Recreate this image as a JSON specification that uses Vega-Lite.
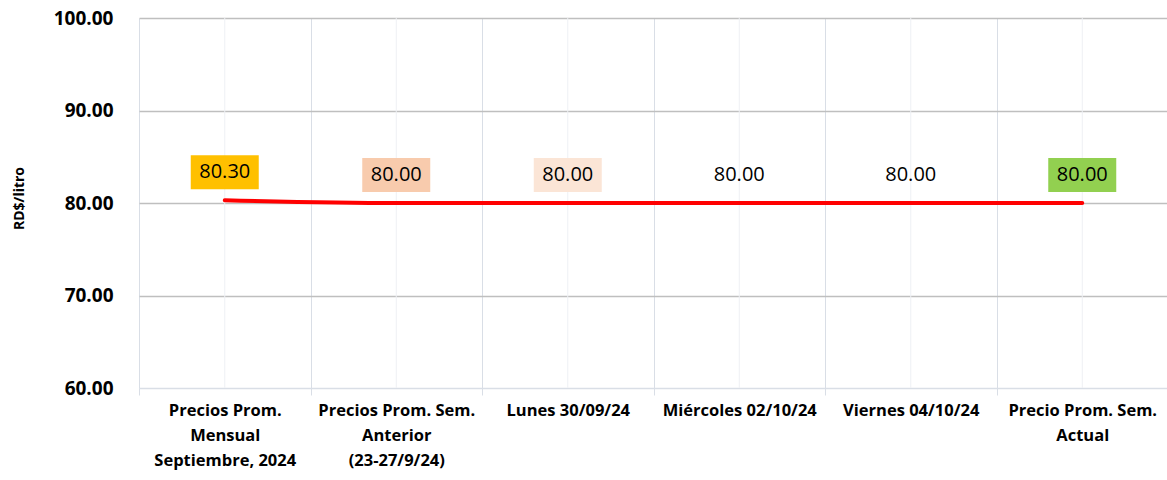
{
  "$schema": "https://vega.github.io/schema/vega-lite/v6.json",
  "autosize": "none",
  "width": 1029,
  "height": 370,
  "padding": {"left": 139, "top": 18, "right": 0, "bottom": 92},
  "background": "white",
  "config": {
    "view": {"stroke": null},
    "font": "Open Sans"
  },
  "data": {
    "values": [
      {"cat": "Precios Prom.|Mensual|Septiembre, 2024", "precio": 80.30},
      {"cat": "Precios Prom. Sem.|Anterior|(23-27/9/24)", "precio": 80.00},
      {"cat": "Lunes  30/09/24", "precio": 80.00},
      {"cat": "Miércoles 02/10/24", "precio": 80.00},
      {"cat": "Viernes 04/10/24", "precio": 80.00},
      {"cat": "Precio Prom. Sem.|Actual", "precio": 80.00}
    ]
  },
  "encoding": {
    "x": {
      "field": "cat",
      "type": "nominal",
      "sort": null,
      "bandPosition": 0.5,
      "scale": {"type": "band", "paddingInner": 0, "paddingOuter": 0},
      "axis": {
        "title": null,
        "labelAngle": 0,
        "labelExpr": "split(datum.label, '|')",
        "labelFont": "Open Sans",
        "labelFontSize": 16.5,
        "labelFontWeight": "bold",
        "labelColor": "#000000",
        "labelLineHeight": 25,
        "labelBaseline": "top",
        "labelPadding": 7,
        "labelLimit": 0,
        "labelOverlap": false,
        "tickBand": "extent",
        "ticks": true,
        "tickSize": 7,
        "tickColor": "#d9dee6",
        "grid": true,
        "gridColor": "#d9dee6",
        "domain": true,
        "domainColor": "#d9dee6"
      }
    },
    "y": {
      "field": "precio",
      "type": "quantitative",
      "scale": {"domain": [60, 100], "nice": false, "zero": false},
      "axis": {
        "title": "RD$/litro",
        "titleFont": "Open Sans",
        "titleFontSize": 14,
        "titleFontWeight": "bold",
        "titleColor": "#000000",
        "titleAngle": -90,
        "titleAlign": "center",
        "titleBaseline": "middle",
        "titleX": -120,
        "titleY": 180,
        "values": [60, 70, 80, 90, 100],
        "format": ".2f",
        "labelFont": "Open Sans",
        "labelFontSize": 19,
        "labelFontWeight": "bold",
        "labelColor": "#000000",
        "labelPadding": 26,
        "ticks": false,
        "domain": false,
        "grid": true,
        "gridColor": {"condition": {"test": "datum.value === 60", "value": "#d9dee6"}, "value": "#bfbfbf"},
        "gridWidth": 1.3
      }
    }
  },
  "layer": [
    {
      "mark": {"type": "rule", "color": "#eef0f4", "strokeWidth": 1},
      "encoding": {
        "y": {"datum": 60, "type": "quantitative"},
        "y2": {"datum": 100}
      }
    },
    {
      "mark": {"type": "line", "color": "#ff0000", "strokeWidth": 4, "interpolate": "monotone", "strokeCap": "round"}
    },
    {
      "mark": {
        "type": "point",
        "shape": "M-1,-0.5L1,-0.5L1,0.5L-1,0.5Z",
        "size": 4624,
        "filled": true,
        "opacity": 1,
        "strokeWidth": 0,
        "yOffset": -28
      },
      "encoding": {
        "color": {
          "field": "cat",
          "type": "nominal",
          "legend": null,
          "scale": {
            "domain": [
              "Precios Prom.|Mensual|Septiembre, 2024",
              "Precios Prom. Sem.|Anterior|(23-27/9/24)",
              "Lunes  30/09/24",
              "Miércoles 02/10/24",
              "Viernes 04/10/24",
              "Precio Prom. Sem.|Actual"
            ],
            "range": ["#ffc000", "#f8cbad", "#fbe5d6", "transparent", "transparent", "#92d050"]
          }
        }
      }
    },
    {
      "mark": {
        "type": "text",
        "font": "Open Sans",
        "fontSize": 20,
        "fontWeight": 500,
        "color": "#000000",
        "baseline": "middle",
        "align": "center",
        "yOffset": -28
      },
      "encoding": {
        "text": {"field": "precio", "type": "quantitative", "format": ".2f"}
      }
    }
  ]
}
